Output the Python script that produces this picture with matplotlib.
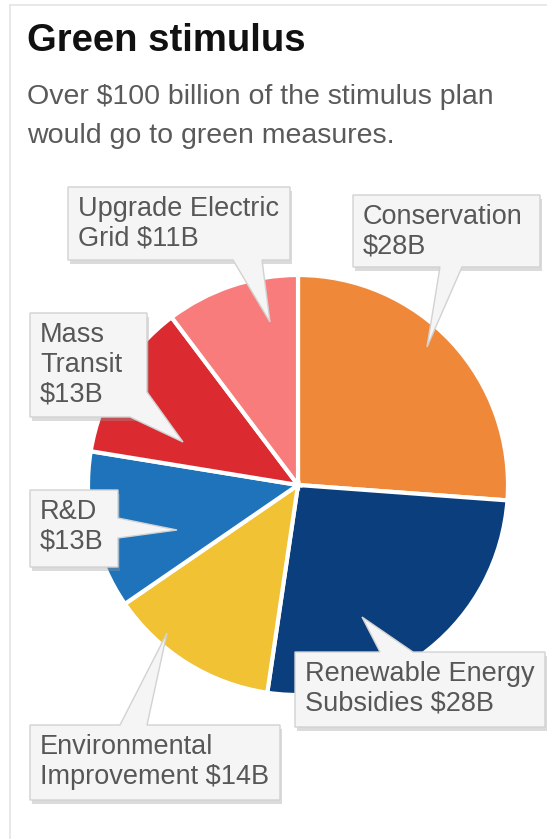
import matplotlib
matplotlib.use("Agg")
import matplotlib.pyplot as plt
from matplotlib.patches import Polygon, Rectangle

# ---- data ----
categories = ["Conservation", "Renewable Energy Subsidies", "Environmental Improvement",
              "R&D", "Mass Transit", "Upgrade Electric Grid"]
values = [28, 28, 14, 13, 13, 11]
label_lines = [
    ["Conservation", "$28B"],
    ["Renewable Energy", "Subsidies $28B"],
    ["Environmental", "Improvement $14B"],
    ["R&D", "$13B"],
    ["Mass", "Transit", "$13B"],
    ["Upgrade Electric", "Grid $11B"],
]
title = "Green stimulus"
subtitle = ["Over $100 billion of the stimulus plan", "would go to green measures."]

# ---- style / layout ----
colors = ["#F0883A", "#0A3E7C", "#F1C234", "#1E73BA", "#DB2A30", "#F87C7C"]
W, H = 547, 839
FONT = ["Liberation Sans", "DejaVu Sans"]

def P(x, y):
    return (x, H - y)

fig = plt.figure(figsize=(W / 100, H / 100), dpi=100)
ax = fig.add_axes([0, 0, 1, 1])

ax.pie(values, colors=colors, startangle=90, counterclock=False,
       center=P(298, 485), radius=210,
       wedgeprops=dict(edgecolor="white", linewidth=3))

# callout layout: box (x0, y0, x1, y1) in px, side, base positions along side, tip
callouts = [
    dict(box=(353, 195, 540, 267), side="bottom", a=440, b=462, tip=(427, 347)),
    dict(box=(295, 652, 545, 727), side="top", a=380, b=413, tip=(362, 617)),
    dict(box=(30, 725, 280, 800), side="top", a=120, b=147, tip=(167, 633)),
    dict(box=(30, 490, 118, 567), side="right", a=518, b=538, tip=(177, 530)),
    dict(box=(30, 313, 147, 417), side="corner", a=392, b=130, tip=(183, 442)),
    dict(box=(68, 187, 290, 260), side="bottom", a=233, b=262, tip=(270, 322)),
]

def outline(c):
    x0, y0, x1, y1 = c["box"]
    a, b, t = c["a"], c["b"], c["tip"]
    s = c["side"]
    if s == "bottom":
        pts = [(x0, y0), (x1, y0), (x1, y1), (b, y1), t, (a, y1), (x0, y1)]
    elif s == "top":
        pts = [(x0, y0), (a, y0), t, (b, y0), (x1, y0), (x1, y1), (x0, y1)]
    elif s == "right":
        pts = [(x0, y0), (x1, y0), (x1, a), t, (x1, b), (x1, y1), (x0, y1)]
    else:  # corner: right edge at y=a, bottom edge at x=b
        pts = [(x0, y0), (x1, y0), (x1, a), t, (b, y1), (x0, y1)]
    return [P(*p) for p in pts]

for c, lines in zip(callouts, label_lines):
    x0, y0, x1, y1 = c["box"]
    # shadow
    ax.add_patch(Rectangle(P(x0 + 2, y1 + 4), x1 - x0, y1 - y0, facecolor="#9a9a9a",
                           edgecolor="none", alpha=0.35, zorder=3))
    ax.add_patch(Polygon(outline(c), closed=True, facecolor="#F5F5F5",
                         edgecolor="#D2D2D2", linewidth=1.0, zorder=4))
    for i, ln in enumerate(lines):
        ax.text(x0 + 10, H - (y0 + 29 + 29.5 * i), ln, fontsize=19.5, color="#575757",
                family=FONT, va="baseline", ha="left", zorder=5)

# title and subtitle
ax.text(27, H - 51, title, fontsize=27.5, fontweight="bold", color="#111111",
        family=FONT, va="baseline", ha="left")
for i, ln in enumerate(subtitle):
    ax.text(27, H - (104 + 39 * i), ln, fontsize=20.5, color="#5a5a5a",
            family=FONT, va="baseline", ha="left")

# panel border lines
ax.plot([10, 10], [0, H - 5], color="#E4E4E4", lw=1.2)
ax.plot([10, W], [H - 5, H - 5], color="#E4E4E4", lw=1.2)

ax.set_xlim(0, W)
ax.set_ylim(0, H)
ax.set_aspect("auto")
ax.axis("off")
fig.savefig("out.png", dpi=100, facecolor="white")
